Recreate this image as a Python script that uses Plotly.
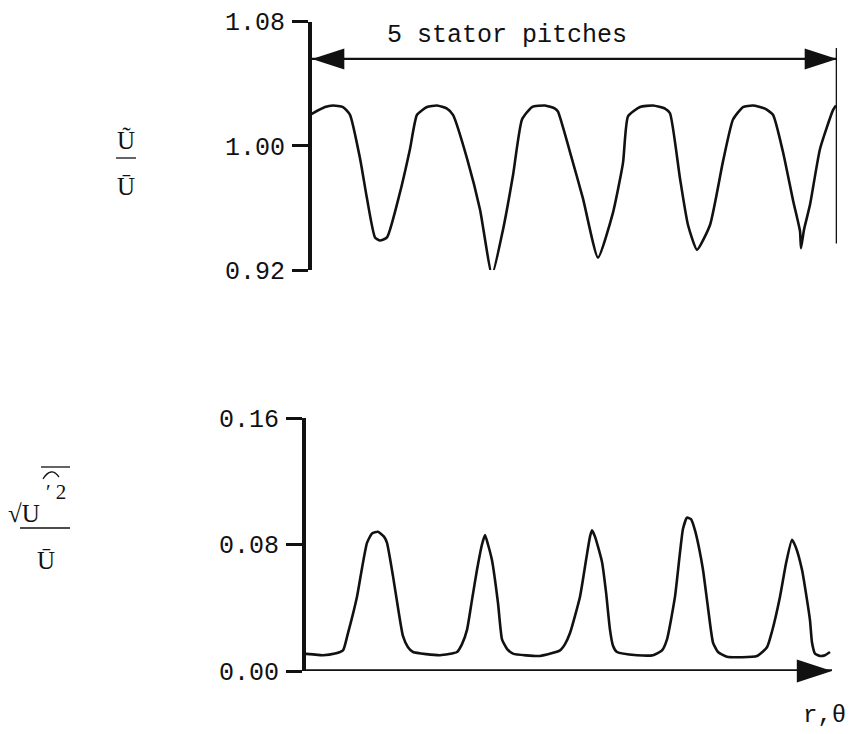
import plotly.graph_objects as go

# ---- data (position along traverse, 0..529 = 5 stator pitches) ----
top_pos = [2, 17, 25, 35, 42, 52, 59, 67, 72, 79, 92, 102, 109, 119, 129, 139, 145,
           159, 172, 184, 195, 205, 214, 224, 237, 247, 250, 262, 275, 290, 305, 315,
           320, 332, 345, 357, 362, 372, 380, 389, 402, 415, 425, 435, 445, 457, 465,
           475, 485, 492, 493, 496, 502, 512, 525, 528]
top_ratio = [1.020, 1.025, 1.026, 1.025, 1.020, 0.992, 0.966, 0.941, 0.939, 0.941, 0.970,
             0.998, 1.020, 1.025, 1.026, 1.024, 1.020, 0.992, 0.959, 0.917, 0.946, 0.981,
             1.017, 1.025, 1.026, 1.024, 1.022, 0.996, 0.966, 0.928, 0.957, 0.989, 1.019,
             1.025, 1.026, 1.024, 1.021, 0.979, 0.949, 0.933, 0.949, 0.990, 1.017, 1.025,
             1.026, 1.024, 1.020, 0.996, 0.965, 0.945, 0.934, 0.946, 0.962, 0.998, 1.023,
             1.026]

bot_pos = [0, 10, 20, 32, 40, 45, 54, 59, 64, 69, 75, 81, 84, 90, 95, 100, 105, 110,
           137, 154, 159, 164, 169, 174, 179, 182, 185, 189, 195, 199, 204, 210, 237,
           257, 262, 267, 277, 283, 287, 289, 292, 299, 303, 307, 310, 314, 334, 350,
           359, 364, 372, 377, 380, 384, 388, 392, 396, 400, 405, 410, 415, 424, 454,
           464, 469, 477, 483, 489, 493, 499, 504, 507, 509, 512, 517, 522, 527]
bot_rms = [0.011, 0.0105, 0.010, 0.011, 0.013, 0.024, 0.047, 0.065, 0.081, 0.087, 0.088,
           0.085, 0.081, 0.060, 0.040, 0.022, 0.015, 0.012, 0.010, 0.012, 0.017, 0.026,
           0.045, 0.064, 0.080, 0.086, 0.080, 0.070, 0.043, 0.020, 0.014, 0.011, 0.0095,
           0.013, 0.017, 0.024, 0.047, 0.070, 0.085, 0.089, 0.085, 0.069, 0.050, 0.026,
           0.016, 0.012, 0.010, 0.010, 0.013, 0.020, 0.047, 0.075, 0.090, 0.097, 0.096,
           0.089, 0.078, 0.064, 0.040, 0.018, 0.012, 0.009, 0.0095, 0.015, 0.025, 0.047,
           0.068, 0.083, 0.078, 0.064, 0.045, 0.032, 0.018, 0.011, 0.0095, 0.010, 0.012]

span_ends = [4, 529]
axis_ends = [3, 529]
span_level = 1.056
span_marker_y = [1.063, 0.937]
top_ticks = [0.92, 1.00, 1.08]
top_ticktext = ["0.92", "1.00", "1.08"]
bot_ticks = [0.00, 0.08, 0.16]
bot_ticktext = ["0.00", "0.08", "0.16"]
span_label = "5 stator pitches"

MONO = "Liberation Mono, Courier New, monospace"
SERIF = "Liberation Serif, Times New Roman, serif"
BLACK = "#111111"

fig = go.Figure()

# top curve
fig.add_trace(go.Scatter(x=top_pos, y=top_ratio, mode="lines",
                         line=dict(color=BLACK, width=2.6, shape="spline", smoothing=0.5),
                         xaxis="x", yaxis="y", cliponaxis=False, hoverinfo="skip"))
# double arrow for 5 pitches
fig.add_trace(go.Scatter(x=span_ends, y=[span_level, span_level], mode="lines",
                         line=dict(color=BLACK, width=2.2),
                         xaxis="x", yaxis="y", cliponaxis=False, hoverinfo="skip"))
fig.add_trace(go.Scatter(x=span_ends, y=[span_level, span_level], mode="markers",
                         marker=dict(symbol="arrow", size=34, angle=[-90, 90], color=BLACK,
                                     line=dict(width=0)),
                         xaxis="x", yaxis="y", cliponaxis=False, hoverinfo="skip"))
# right end marker line
fig.add_trace(go.Scatter(x=[span_ends[1], span_ends[1]], y=span_marker_y, mode="lines",
                         line=dict(color=BLACK, width=2.6),
                         xaxis="x", yaxis="y", cliponaxis=False, hoverinfo="skip"))

# bottom curve
fig.add_trace(go.Scatter(x=bot_pos, y=bot_rms, mode="lines",
                         line=dict(color=BLACK, width=2.6, shape="spline", smoothing=0.5),
                         xaxis="x2", yaxis="y2", cliponaxis=False, hoverinfo="skip"))
# bottom horizontal axis with arrow
fig.add_trace(go.Scatter(x=axis_ends, y=[0, 0], mode="lines",
                         line=dict(color=BLACK, width=3.5),
                         xaxis="x2", yaxis="y2", cliponaxis=False, hoverinfo="skip"))
fig.add_trace(go.Scatter(x=[axis_ends[1]], y=[0], mode="markers",
                         marker=dict(symbol="arrow", size=37, angle=90, color=BLACK,
                                     line=dict(width=0)),
                         xaxis="x2", yaxis="y2", cliponaxis=False, hoverinfo="skip"))

W, H = 849, 734


def px(x):
    return x / W


def py(y):
    return 1 - y / H


yax_common = dict(showline=True, linewidth=4, linecolor=BLACK, ticks="outside",
                  ticklen=16, tickwidth=3, tickcolor=BLACK, showgrid=False,
                  zeroline=False, tickfont=dict(family=MONO, size=25, color=BLACK),
                  ticklabelstandoff=2, fixedrange=True, automargin=False)

fig.update_layout(
    width=W, height=H, margin=dict(l=0, r=0, t=0, b=0, pad=0, autoexpand=False),
    paper_bgcolor="white", plot_bgcolor="white", showlegend=False,
    xaxis=dict(domain=[px(312), px(837)], range=[4, 529], visible=False, anchor="y",
               automargin=False),
    yaxis=dict(domain=[py(270), py(21.7)], range=[0.92, 1.08], tickvals=top_ticks,
               ticktext=top_ticktext, anchor="x", **yax_common),
    xaxis2=dict(domain=[px(306), px(832)], range=[3, 529], visible=False, anchor="y2",
                automargin=False),
    yaxis2=dict(domain=[py(671), py(418)], range=[0, 0.16], tickvals=bot_ticks,
                ticktext=bot_ticktext, anchor="x2", **yax_common),
)


def label(xp, yp, text, size, family=SERIF):
    return dict(x=px(xp), y=py(yp), xref="paper", yref="paper", text=text,
                showarrow=False, xanchor="center", yanchor="middle",
                font=dict(family=family, size=size, color=BLACK))


ann = [
    dict(x=199, y=1.0713, xref="x", yref="y", text=span_label, showarrow=False,
         xanchor="center", yanchor="middle", font=dict(family=MONO, size=25, color=BLACK)),
    label(824, 715, "r,θ", 24, MONO),
    # top y label: U~ / U-
    label(126, 140, "Ũ", 25),
    label(126, 186, "Ū", 25),
    # bottom y label
    label(24, 513, "√U", 25),
    label(56, 492, "ʹ 2", 21),
    label(46, 560, "Ū", 25),
]
fig.update_layout(annotations=ann)


def arc_path(x0, y0, xc, yc, x1, y1):
    return "M{},{} Q{},{} {},{}".format(px(x0), py(y0), px(xc), py(yc), px(x1), py(y1))


shapes = [
    dict(type="line", xref="paper", yref="paper", x0=px(116), x1=px(136), y0=py(158), y1=py(158),
         line=dict(color=BLACK, width=1.3)),
    dict(type="line", xref="paper", yref="paper", x0=px(20), x1=px(70), y0=py(528), y1=py(528),
         line=dict(color=BLACK, width=1.3)),
    dict(type="line", xref="paper", yref="paper", x0=px(41), x1=px(70), y0=py(467), y1=py(467),
         line=dict(color=BLACK, width=1.3)),
    dict(type="path", xref="paper", yref="paper", path=arc_path(43, 479, 51, 466, 59, 477),
         line=dict(color=BLACK, width=1.3)),
]
fig.update_layout(shapes=shapes)

fig.write_html("out.html")
